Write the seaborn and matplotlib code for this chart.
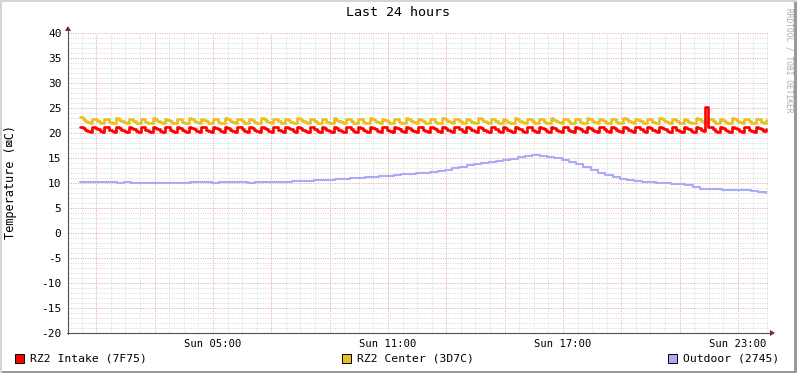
import numpy as np
import pandas as pd
import matplotlib
matplotlib.use("Agg")
import matplotlib.pyplot as plt
import seaborn as sns
from matplotlib.patches import Rectangle, Polygon
from matplotlib.lines import Line2D
from matplotlib.ticker import FixedLocator, FixedFormatter

# ---------------- data ----------------
title = "Last 24 hours"
ylabel = "Temperature (\u22a0C)"
series_names = ["RZ2 Intake (7F75)", "RZ2 Center (3D7C)", "Outdoor (2745)"]
series_colors = ["#ff0000", "#e8c020", "#aaaaf8"]

x_tick_hours = [5, 11, 17, 23]
x_tick_labels = ["Sun 05:00", "Sun 11:00", "Sun 17:00", "Sun 23:00"]
y_ticks = [-20, -15, -10, -5, 0, 5, 10, 15, 20, 25, 30, 35, 40]

# Intake (red): 5-minute samples, 00:27 .. 23:57
intake = [
    21.3, 21.1, 20.7, 20.4, 20.2, 21.2, 21.1, 20.8, 20.5, 20.3,
    21.3, 21.2, 20.7, 20.4, 20.2, 21.2, 21.0, 20.6, 20.4, 20.3,
    21.3, 21.1, 20.8, 20.5, 20.2, 21.2, 21.2, 20.7, 20.4, 20.3,
    21.3, 21.1, 20.8, 20.5, 20.2, 21.2, 21.2, 20.7, 20.4, 20.3,
    21.3, 21.0, 20.6, 20.4, 20.2, 21.2, 21.1, 20.8, 20.5, 20.3,
    21.3, 21.2, 20.7, 20.4, 20.2, 21.2, 21.1, 20.8, 20.4, 20.3,
    21.3, 21.1, 20.7, 20.5, 20.2, 21.2, 21.2, 20.8, 20.4, 20.3,
    21.3, 21.0, 20.6, 20.4, 20.2, 21.2, 21.1, 20.8, 20.5, 20.3,
    21.3, 21.2, 20.7, 20.4, 20.2, 21.2, 21.1, 20.8, 20.5, 20.3,
    21.3, 21.1, 20.7, 20.4, 20.2, 21.2, 21.2, 20.8, 20.4, 20.3,
    21.3, 21.1, 20.6, 20.4, 20.2, 21.2, 21.0, 20.7, 20.5, 20.3,
    21.3, 21.2, 20.8, 20.4, 20.2, 21.2, 21.1, 20.7, 20.5, 20.3,
    21.3, 21.1, 20.8, 20.4, 20.2, 21.2, 21.2, 20.7, 20.4, 20.3,
    21.3, 21.1, 20.8, 20.5, 20.2, 21.2, 21.0, 20.6, 20.4, 20.3,
    21.3, 21.2, 20.7, 20.4, 20.2, 21.2, 21.1, 20.8, 20.5, 20.3,
    21.3, 21.1, 20.7, 20.4, 20.2, 21.2, 21.2, 20.8, 20.4, 20.3,
    21.3, 21.1, 20.7, 20.5, 20.2, 21.2, 21.0, 20.6, 20.4, 20.3,
    21.3, 21.2, 20.8, 20.4, 20.2, 21.2, 21.1, 20.7, 20.5, 20.3,
    21.3, 21.1, 20.8, 20.4, 20.2, 21.2, 21.2, 20.7, 20.4, 20.3,
    21.3, 21.1, 20.8, 20.5, 20.2, 21.2, 21.0, 20.6, 20.4, 20.3,
    21.3, 21.2, 20.7, 20.4, 20.2, 21.2, 21.1, 20.8, 20.5, 20.3,
    21.3, 21.1, 20.7, 20.4, 20.2, 21.2, 21.2, 20.8, 20.4, 20.3,
    21.3, 21.1, 20.7, 20.5, 20.2, 21.2, 21.0, 20.6, 20.4, 20.3,
    21.3, 21.2, 20.8, 20.4, 20.2, 21.2, 21.1, 20.7, 20.5, 20.3,
    21.3, 21.1, 20.8, 20.4, 20.2, 21.2, 21.2, 20.7, 20.4, 20.3,
    21.3, 21.1, 20.8, 20.5, 20.2, 21.2, 21.0, 20.7, 20.4, 25.3,
    21.3, 21.2, 20.8, 20.4, 20.2, 21.2, 21.1, 20.7, 20.5, 20.3,
    21.3, 21.1, 20.8, 20.4, 20.2, 21.2, 21.2, 20.7, 20.4, 20.3,
    21.3, 21.1, 20.8, 20.5, 20.9,
]

# Center (yellow): 5-minute samples, same times
center = [
    23.2, 22.9, 22.5, 22.2, 22.0, 22.9, 22.8, 22.4, 22.1, 22.0,
    22.9, 22.8, 22.3, 22.1, 22.0, 23.0, 22.7, 22.4, 22.2, 22.0,
    22.9, 22.8, 22.4, 22.1, 22.0, 22.9, 22.8, 22.3, 22.1, 22.0,
    23.0, 22.8, 22.4, 22.2, 22.0, 22.9, 22.7, 22.4, 22.1, 22.0,
    22.9, 22.8, 22.3, 22.1, 22.0, 23.0, 22.8, 22.4, 22.2, 22.0,
    22.9, 22.7, 22.4, 22.1, 22.0, 22.9, 22.8, 22.3, 22.1, 22.0,
    23.0, 22.8, 22.4, 22.2, 22.0, 22.9, 22.8, 22.4, 22.1, 22.0,
    22.9, 22.7, 22.3, 22.1, 22.0, 23.0, 22.8, 22.4, 22.2, 22.0,
    22.9, 22.8, 22.4, 22.1, 22.0, 22.9, 22.7, 22.3, 22.1, 22.0,
    23.0, 22.8, 22.4, 22.2, 22.0, 22.9, 22.8, 22.4, 22.1, 22.0,
    22.9, 22.8, 22.3, 22.1, 22.0, 23.0, 22.7, 22.4, 22.2, 22.0,
    22.9, 22.8, 22.4, 22.1, 22.0, 22.9, 22.8, 22.3, 22.1, 22.0,
    23.0, 22.8, 22.4, 22.2, 22.0, 22.9, 22.7, 22.4, 22.1, 22.0,
    22.9, 22.8, 22.3, 22.1, 22.0, 23.0, 22.8, 22.4, 22.2, 22.0,
    22.9, 22.7, 22.4, 22.1, 22.0, 22.9, 22.8, 22.3, 22.1, 22.0,
    23.0, 22.8, 22.4, 22.2, 22.0, 22.9, 22.8, 22.4, 22.1, 22.0,
    22.9, 22.7, 22.3, 22.1, 22.0, 23.0, 22.8, 22.4, 22.2, 22.0,
    22.9, 22.8, 22.4, 22.1, 22.0, 22.9, 22.7, 22.3, 22.1, 22.0,
    23.0, 22.8, 22.4, 22.2, 22.0, 22.9, 22.8, 22.4, 22.1, 22.0,
    22.9, 22.8, 22.3, 22.1, 22.0, 23.0, 22.7, 22.4, 22.2, 22.0,
    22.9, 22.8, 22.4, 22.1, 22.0, 22.9, 22.8, 22.3, 22.1, 22.0,
    23.0, 22.8, 22.4, 22.2, 22.0, 22.9, 22.7, 22.4, 22.1, 22.0,
    22.9, 22.8, 22.3, 22.1, 22.0, 23.0, 22.8, 22.4, 22.2, 22.0,
    22.9, 22.7, 22.4, 22.1, 22.0, 22.9, 22.8, 22.3, 22.1, 22.0,
    23.0, 22.8, 22.4, 22.2, 22.0, 22.9, 22.8, 22.4, 22.1, 22.0,
    22.9, 22.7, 22.3, 22.1, 22.0, 23.0, 22.8, 22.4, 22.2, 22.0,
    22.9, 22.8, 22.4, 22.1, 22.0, 22.9, 22.7, 22.3, 22.1, 22.0,
    23.0, 22.8, 22.4, 22.2, 22.0, 22.9, 22.8, 22.4, 22.1, 22.0,
    22.9, 22.8, 22.3, 22.1, 22.6,
]

# Outdoor (blue): 15-minute samples, 00:27 .. 23:57
outdoor = [
    10.2, 10.2, 10.3, 10.2, 10.2, 10.1, 10.2,
    10.1, 10.0, 10.0, 10.1, 10.0, 10.0, 10.1,
    10.1, 10.2, 10.2, 10.2, 10.1, 10.2, 10.2,
    10.2, 10.2, 10.1, 10.2, 10.2, 10.3, 10.3,
    10.3, 10.4, 10.4, 10.5, 10.6, 10.6, 10.7,
    10.8, 10.9, 11.0, 11.1, 11.2, 11.3, 11.4,
    11.5, 11.6, 11.8, 11.9, 12.0, 12.1, 12.2,
    12.4, 12.7, 13.0, 13.3, 13.6, 13.8, 14.0,
    14.2, 14.4, 14.6, 14.9, 15.2, 15.5, 15.6,
    15.5, 15.3, 15.0, 14.7, 14.3, 13.9, 13.3,
    12.6, 12.0, 11.6, 11.2, 10.9, 10.7, 10.5,
    10.3, 10.2, 10.1, 10.0, 9.9, 9.8, 9.6,
    9.2, 8.9, 8.8, 8.8, 8.7, 8.7, 8.6,
    8.6, 8.4, 8.3, 8.0,
]

t_start, t_end = 0.45, 23.95   # hours after midnight
t_fast = np.linspace(t_start, t_end, len(intake))
t_slow = np.linspace(t_start, t_end, len(outdoor))

df_fast = pd.DataFrame({"t": t_fast, "intake": intake, "center": center})
df_slow = pd.DataFrame({"t": t_slow, "outdoor": outdoor})

# ---------------- figure ----------------
W, H = 797, 373
sns.set_theme(style="white")
plt.rcParams['font.family'] = ['DejaVu Sans Mono', 'DejaVu Sans']

fig = plt.figure(figsize=(W / 100, H / 100), dpi=100, facecolor="white")

def fx(px):
    return px / W

def fy(py):
    return 1 - py / H

L, R, T, B = 68, 768, 33, 333
ax = fig.add_axes([fx(L), fy(B), (R - L) / W, (B - T) / H])
ax.set_facecolor("white")
ax.set_xlim(0.03, 24.03)
ax.set_ylim(-20, 40)

# grid
x_major = [h for h in range(1, 24, 2)]
x_minor = [h / 2 for h in range(1, 49) if (h / 2) not in x_major]
y_minor = [v for v in range(-20, 41) if v % 5 != 0]
ax.xaxis.set_major_locator(FixedLocator(x_major))
ax.xaxis.set_major_formatter(FixedFormatter(
    [x_tick_labels[x_tick_hours.index(h)] if h in x_tick_hours else "" for h in x_major]))
ax.xaxis.set_minor_locator(FixedLocator(x_minor))
ax.yaxis.set_major_locator(FixedLocator(y_ticks))
ax.yaxis.set_major_formatter(FixedFormatter([str(v) for v in y_ticks]))
ax.yaxis.set_minor_locator(FixedLocator(y_minor))

ax.grid(which="minor", color="#d9d9d9", lw=0.72, ls=(0, (1, 1.4)))
ax.grid(which="major", color="#eba4a4", lw=0.72, ls=(0, (1, 1.4)))
ax.set_axisbelow(True)

for s in ax.spines.values():
    s.set_visible(False)

ax.tick_params(axis="x", which="major", length=2.5, width=0.72, color="#606060",
               direction="out", pad=2, labelsize=7.6, labelcolor="#000000")
ax.tick_params(axis="x", which="minor", length=0)
ax.tick_params(axis="y", which="major", length=3.2, width=0.72, color="#606060",
               direction="out", pad=1.5, labelsize=8, labelcolor="#000000")
ax.tick_params(axis="y", which="minor", length=0)
ax.set_xlabel("")
ax.set_ylabel("")

# series
sns.lineplot(data=df_slow, x="t", y="outdoor", ax=ax, color=series_colors[2],
             lw=1.5, drawstyle="steps-post", legend=False, zorder=3)
sns.lineplot(data=df_fast, x="t", y="center", ax=ax, color=series_colors[1],
             lw=1.9, drawstyle="steps-post", legend=False, zorder=4)
sns.lineplot(data=df_fast, x="t", y="intake", ax=ax, color=series_colors[0],
             lw=1.9, drawstyle="steps-post", legend=False, zorder=5)
ax.set_xlabel("")
ax.set_ylabel("")

# axis lines with arrows (figure pixel coordinates)
fig.add_artist(Line2D([fx(L), fx(L)], [fy(B + 1), fy(29)], color="#505050", lw=0.8))
fig.add_artist(Line2D([fx(L - 1), fx(771)], [fy(B), fy(B)], color="#505050", lw=0.8))
fig.add_artist(Polygon([[fx(L - 3), fy(31)], [fx(L + 3), fy(31)], [fx(L), fy(26)]],
                       closed=True, color="#802020", lw=0))
fig.add_artist(Polygon([[fx(770), fy(B - 3)], [fx(770), fy(B + 3)], [fx(775), fy(B)]],
                       closed=True, color="#802020", lw=0))

# texts
fig.text(fx(398), fy(13), title, ha="center", va="center", fontsize=9.6, color="#000000")
fig.text(fx(11), fy(182), ylabel, rotation=90, ha="center", va="center",
         fontsize=8.6, color="#000000")
fig.text(fx(789), fy(8), "RRDTOOL / TOBI OETIKER", rotation=270, ha="center", va="top",
         fontsize=5.7, color="#a8a8a8")

# legend
leg_x = [15, 342, 668]
for x0, name, col in zip(leg_x, series_names, series_colors):
    fig.add_artist(Rectangle((fx(x0), fy(363)), 9 / W, 9 / H, facecolor=col,
                             edgecolor="#000000", lw=0.7))
    fig.text(fx(x0 + 15), fy(358.5), name, ha="left", va="center", fontsize=8.2,
             color="#000000")

# frame (3D look)
fig.add_artist(Rectangle((0, 0), 1, 2 / H, facecolor="#9a9a9a", lw=0))
fig.add_artist(Rectangle((1 - 3 / W, 0), 3 / W, 1, facecolor="#9a9a9a", lw=0))
fig.add_artist(Rectangle((0, 1 - 2 / H), 1, 2 / H, facecolor="#d4d4d4", lw=0))
fig.add_artist(Rectangle((0, 0), 2 / W, 1, facecolor="#d4d4d4", lw=0))

fig.savefig("out.png", dpi=100, facecolor="white")
